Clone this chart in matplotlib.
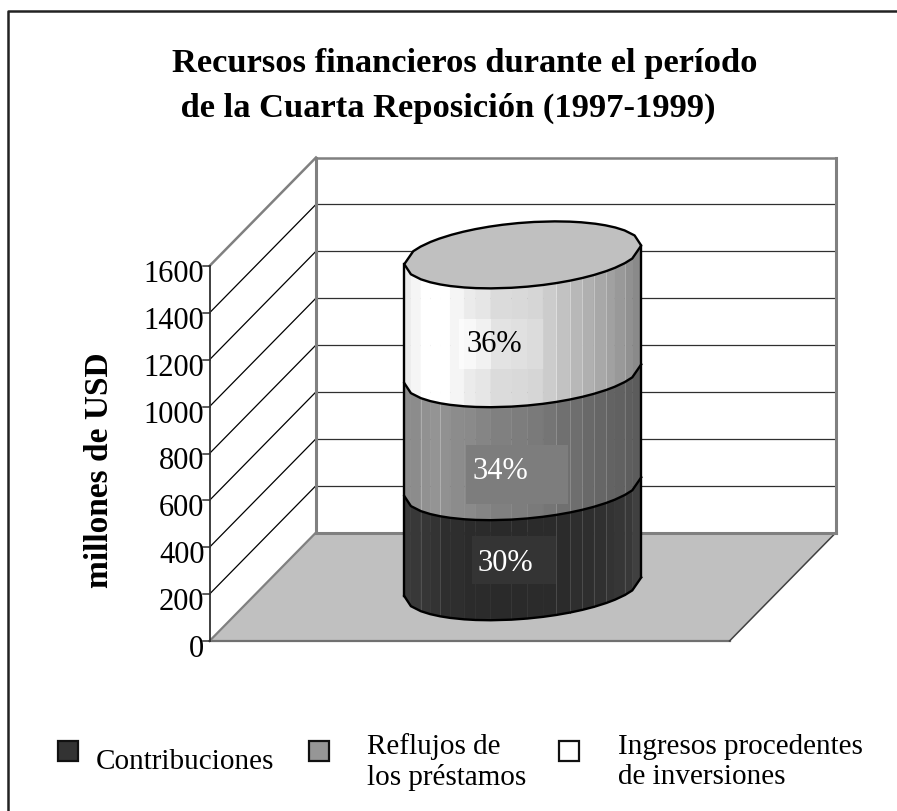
import numpy as np
import matplotlib
matplotlib.use("Agg")
import matplotlib.pyplot as plt
from matplotlib.patches import Polygon, Rectangle

plt.rcParams['font.family'] = ['Liberation Serif', 'DejaVu Serif']

# ---- data ----
title = "Recursos financieros durante el período\n de la Cuarta Reposición (1997-1999)"
y_label = "millones de USD"
y_ticks = [0, 200, 400, 600, 800, 1000, 1200, 1400, 1600]
series_names = ["Contribuciones", "Reflujos de\nlos préstamos", "Ingresos procedentes\nde inversiones"]
series_values = [427, 482, 507]
series_labels = ["30%", "34%", "36%"]

# ---- style ----
W, H = 897, 812
PX0, PX1 = 209.5, 729.5        # front plane x range
PY0, PY_PER = 642.0, 375 / 1600  # pixel y of value 0; pixels per value
DX, DY = 106.5, 108.5          # depth offset in px
GRID = '#000000'
WALL = '#808080'
FLOOR = '#c0c0c0'
facet_px = np.array([40, 60, 90, 118, 148, 178, 220, 255, 300, 362, 410, 457,
                     497, 538, 575, 610, 647, 673, 703, 725, 752], float)
facet_u = (facet_px - 396) / 356
seg_shades = [
    np.array([.23, .22, .21, .20, .18, .18, .17, .17, .165, .165, .17, .17,
              .17, .18, .18, .19, .20, .21, .22, .25]),
    np.array([.55, .55, .57, .58, .57, .55, .54, .52, .50, .49, .48, .46,
              .44, .43, .41, .40, .39, .38, .37, .36]),
    np.array([.92, .96, 1, 1, 1, .96, .92, .90, .86, .85, .84, .80,
              .76, .72, .69, .66, .63, .60, .57, .54]),
]
# label plates in pixels: x0, x1, y0, y1; text centre in pixels
plates = [(472, 556, 537, 585), (466, 568, 446, 505), (459, 544, 320, 370)]
label_xy = [(505, 564), (500, 472), (494, 345)]
plate_shades = [lambda c: np.full_like(c, .205), lambda c: np.full_like(c, .49),
                lambda c: np.minimum(1.0, c + .08) - (1 - c) * .35]
label_colors = ['white', 'white', 'black']
swatches = [(57.5, '#333333'), (308.5, '#969696'), (559, '#ffffff')]
legend_text = [(96, 762), (367, 762), (618, 762)]

fig = plt.figure(figsize=(W / 100, H / 100), dpi=100)
ax = fig.add_axes([0, 0, 1, 1])
ax.set_xlim(0, W)
ax.set_ylim((PY0 - H) / PY_PER, PY0 / PY_PER)  # data y is the value
ax.axis('off')
dv = DY / PY_PER


def P(x, v, d=0.0):
    """front-plane pixel x, value v, depth fraction d -> axes coordinates"""
    return (x + DX * d, v + dv * d)


def py(p):
    """pixel row -> value coordinate"""
    return (PY0 - p) / PY_PER


vmax = y_ticks[-1]
# frame: left and top edges only
ax.plot([7.5, 7.5, W], [py(H), py(11.5), py(11.5)], color='#222222', lw=1.8, zorder=1)
# floor
ax.add_patch(Polygon([P(PX0, 0), P(PX1, 0), P(PX1, 0, 1), P(PX0, 0, 1)],
                     fc=FLOOR, ec='none', zorder=2))
ax.plot(*zip(P(PX0, 0), P(PX1, 0)), color='#707070', lw=1.6, zorder=3)
ax.plot(*zip(P(PX1, 0), P(PX1, 0, 1)), color='#404040', lw=1.1, zorder=3)
ax.plot(*zip(P(PX0, 0), P(PX0, 0, 1)), color=WALL, lw=1.6, zorder=3)
# gridlines
for v in y_ticks[1:]:
    col, lw = (WALL, 1.8) if v == vmax else (GRID, 0.9)
    ax.plot(*zip(P(PX0, v), P(PX0, v, 1)), color=col, lw=lw, zorder=3)
    ax.plot(*zip(P(PX0, v, 1), P(PX1, v, 1)), color=col if v == vmax else '#303030',
            lw=lw, zorder=3)
# back wall
ax.plot(*zip(P(PX0, 0, 1), P(PX0, vmax, 1)), color=WALL, lw=2.2, zorder=3)
ax.plot(*zip(P(PX1, 0, 1), P(PX1, vmax, 1)), color=WALL, lw=2.2, zorder=3)
ax.plot(*zip(P(PX0, 0, 1), P(PX1, 0, 1)), color=WALL, lw=2.2, zorder=3)
# value axis
ax.plot(*zip(P(PX0, 0), P(PX0, vmax)), color='#303030', lw=1.3, zorder=4)
for v in y_ticks:
    ax.plot([PX0 - 7, PX0], [v, v], color='#303030', lw=1.1, zorder=4)
    ax.text(PX0 - 5, v - 7.5 / PY_PER, str(v), ha='right', va='center', fontsize=22, zorder=4)
ax.text(99, py(470), y_label, rotation=90, ha='center', va='center',
        fontsize=24, fontweight='bold')
# title
ax.text(172, py(86), title, ha='left', va='center', fontsize=24.8,
        fontweight='bold', linespacing=1.56, multialignment='left')

# cylinder: a circle on the skewed floor plane
cx = 0.5 * (PX0 + PX1)
Rw, skew, b_px = 113.8, 33.0, 33.5
tip = np.arctan2(skew, Rw)
phi = np.arccos(np.clip(-facet_u, -1, 1))
theta = np.pi + tip + phi
arc_x = cx + Rw * np.cos(theta) + skew * np.sin(theta)
arc_y = (b_px * np.sin(theta)) / PY_PER   # front half, value offsets from the centre
zb = 10
bottom = 0.0
for val, shades, lbl, plate, (tx, ty), pf, tc in zip(series_values, seg_shades, series_labels,
                                                     plates, label_xy, plate_shades, label_colors):
    top = bottom + val
    for i in range(len(shades)):
        g = shades[i]
        quad = [P(arc_x[i], bottom + arc_y[i], .5), P(arc_x[i + 1], bottom + arc_y[i + 1], .5),
                P(arc_x[i + 1], top + arc_y[i + 1], .5), P(arc_x[i], top + arc_y[i], .5)]
        ax.add_patch(Polygon(quad, fc=(g, g, g), ec=(g, g, g), lw=0.3, zorder=zb))
        if i in (2, 4, 12, 13, 14, 15, 16, 18):
            e = min(g + 0.13, 1)
            ax.plot([quad[0][0], quad[3][0]], [quad[0][1], quad[3][1]], color=(e, e, e),
                    lw=0.6, zorder=zb + 0.1)
    # data label plate, shaded across the facets it covers
    xs = np.clip(arc_x + DX * .5, plate[0], plate[1])
    vals = pf(shades)
    for i in range(len(shades)):
        if xs[i + 1] > xs[i]:
            g = float(np.clip(vals[i], 0, 1))
            ax.add_patch(Rectangle((xs[i], py(plate[3])), xs[i + 1] - xs[i],
                                   (plate[3] - plate[2]) / PY_PER,
                                   fc=(g, g, g), ec='none', zorder=zb + 0.2))
    ax.text(tx, py(ty), lbl, color=tc, ha='center', va='center', fontsize=22, zorder=zb + 0.3)
    bottom = top

# outline
tot = bottom
full_x = np.r_[arc_x, 2 * cx - arc_x[1:-1]]
full_y = np.r_[arc_y, -arc_y[1:-1]]
ax.add_patch(Polygon([P(x, tot + y, .5) for x, y in zip(full_x, full_y)], fc=FLOOR, ec='black',
                     lw=1.7, zorder=zb + 1, joinstyle='round'))
bottom = 0.0
for val in [0] + series_values[:-1]:
    bottom += val
    pts = [P(x, bottom + y, .5) for x, y in zip(arc_x, arc_y)]
    ax.plot(*zip(*pts), color='black', lw=1.7, zorder=zb + 1)
ax.plot(*zip(P(arc_x[0], arc_y[0], .5), P(arc_x[0], tot + arc_y[0], .5)), color='black', lw=1.7, zorder=zb + 1)
ax.plot(*zip(P(arc_x[-1], arc_y[-1], .5), P(arc_x[-1], tot + arc_y[-1], .5)), color='black', lw=1.7, zorder=zb + 1)

# legend
for (sx, c), name, (tx, ty) in zip(swatches, series_names, legend_text):
    ax.add_patch(Rectangle((sx, py(762)), 20, 20 / PY_PER, fc=c, ec='#111111', lw=1.6, zorder=5))
    ax.text(tx, py(ty), name, ha='left', va='center', fontsize=21, linespacing=1.16, zorder=5)

fig.savefig('out.png', dpi=100)
